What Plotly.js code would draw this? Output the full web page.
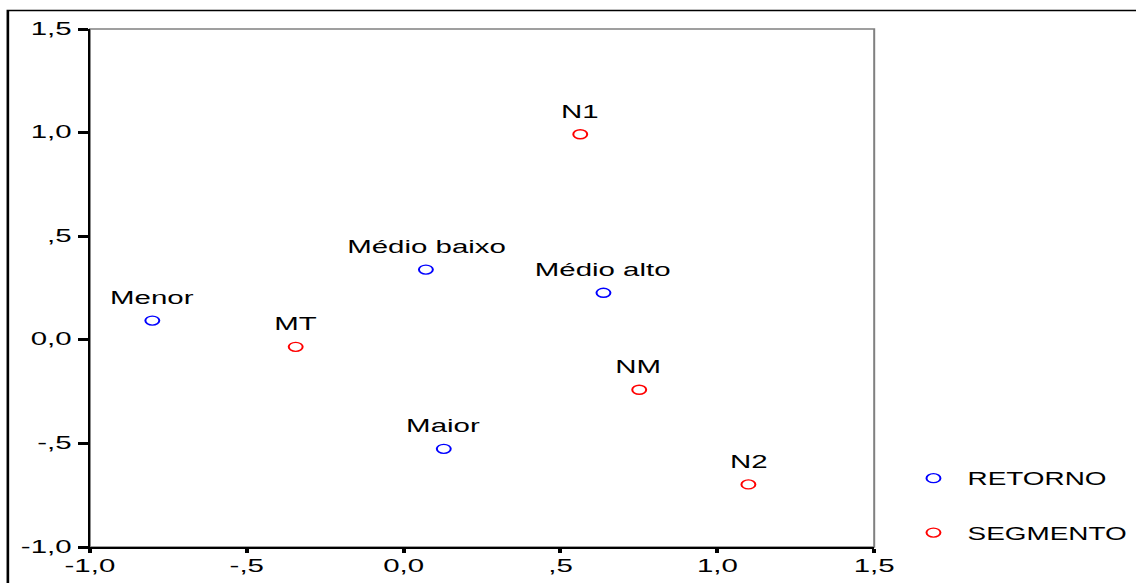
<!DOCTYPE html>
<html><head><meta charset="utf-8">
<script src="https://cdn.plot.ly/plotly-3.0.1.min.js"></script>
<style>
html,body{margin:0;padding:0;background:#fff;overflow:hidden;width:1136px;height:583px}
#chart{transform-origin:0 0;}
</style></head>
<body><div id="chart"></div>
<script>
// Data
const retornoLabels = ["Menor", "Médio baixo", "Médio alto", "Maior"];
const retornoX = [-0.801, 0.071, 0.637, 0.128];
const retornoY = [0.093, 0.339, 0.227, -0.526];
const segmentoLabels = ["MT", "N1", "NM", "N2"];
const segmentoX = [-0.344, 0.563, 0.751, 1.099];
const segmentoY = [-0.034, 0.992, -0.241, -0.698];
const tickVals = [-1, -0.5, 0, 0.5, 1, 1.5];
const tickText = ["-1,0", "-,5", "0,0", ",5", "1,0", "1,5"];

const S = 1.55;               // horizontal stretch of the reference picture
const W = 1136 / S, H = 583;
const el = document.getElementById('chart');
el.style.width = W + 'px';
el.style.height = H + 'px';
el.style.transform = 'scale(' + S + ',1)';

const FONT = 'Liberation Sans, Arial, sans-serif';

function series(name, xs, ys, color) {
  return {
    type: 'scatter', mode: 'markers', name: name, legendgroup: name,
    x: xs, y: ys,
    marker: {symbol: 'circle-open', size: 9, color: color, line: {width: 1.3, color: color}},
    cliponaxis: false, hoverinfo: 'skip'
  };
}

function labels(xs, ys, texts) {
  return texts.map((t, i) => ({
    x: xs[i], y: ys[i], xref: 'x', yref: 'y', text: t, showarrow: false,
    xanchor: 'center', yanchor: 'middle', yshift: 23,
    font: {family: FONT, size: 19, color: '#000'}
  }));
}

const data = [
  series('RETORNO', retornoX, retornoY, '#0000ff'),
  series('SEGMENTO', segmentoX, segmentoY, '#ff0000')
];

const layout = {
  width: W, height: H,
  margin: {l: 58.1, r: 169.1, t: 28.5, b: 36.3, pad: 0},
  paper_bgcolor: '#fff', plot_bgcolor: '#fff',
  font: {family: FONT, color: '#000', size: 19},
  showlegend: true,
  legend: {
    xref: 'container', yref: 'container',
    x: 0.7917, xanchor: 'left', y: 0.211, yanchor: 'top',
    font: {family: FONT, size: 18, color: '#000'},
    traceorder: 'grouped', tracegroupgap: 28, itemwidth: 34,
    bgcolor: 'rgba(0,0,0,0)', borderwidth: 0
  },
  xaxis: {
    range: [-1, 1.5], tickmode: 'array', tickvals: tickVals, ticktext: tickText,
    showgrid: false, zeroline: false, showline: true, linecolor: '#000', linewidth: 2,
    ticks: 'outside', ticklen: 4, tickwidth: 2.6, tickcolor: '#000', ticklabelstandoff: -4,
    tickfont: {family: FONT, size: 19, color: '#000'}, fixedrange: true
  },
  yaxis: {
    range: [-1, 1.5], tickmode: 'array', tickvals: tickVals, ticktext: tickText,
    showgrid: false, zeroline: false, showline: true, linecolor: '#000', linewidth: 1.5,
    ticks: 'outside', ticklen: 6.5, tickwidth: 3, tickcolor: '#000', ticklabelshift: -1,
    tickfont: {family: FONT, size: 19, color: '#000'}, fixedrange: true
  },
  annotations: labels(retornoX, retornoY, retornoLabels).concat(labels(segmentoX, segmentoY, segmentoLabels)),
  shapes: [
    {type: 'rect', xref: 'paper', yref: 'paper', x0: 0, x1: 1, y0: 0, y1: 1,
     line: {color: '#808080', width: 1.3}, layer: 'below'},
    {type: 'rect', xref: 'paper', yref: 'paper', x0: -0.1046, x1: 1.4, y0: -0.2, y1: 1.0357,
     line: {color: '#000', width: 1.7}, layer: 'above'}
  ]
};

Plotly.newPlot(el, data, layout, {displayModeBar: false, staticPlot: true});
</script>
</body></html>
